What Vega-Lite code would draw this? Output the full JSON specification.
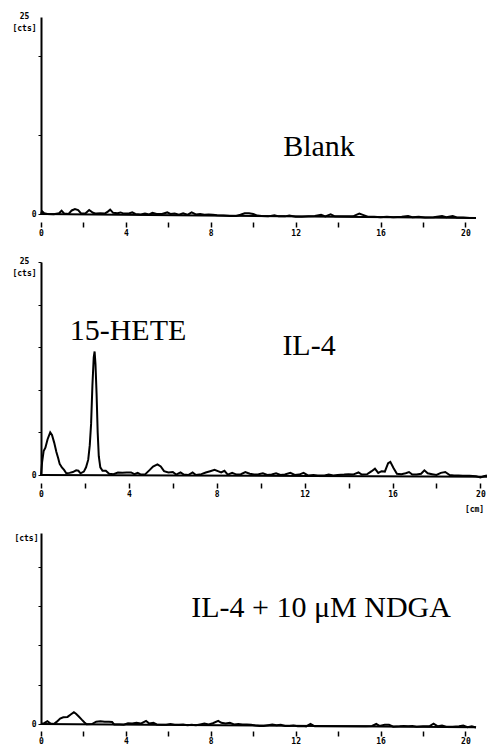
{
  "$schema": "https://vega.github.io/schema/vega-lite/v6.json",
  "padding": {"left": 11, "top": 12, "right": 0, "bottom": 0},
  "spacing": 20,
  "background": "white",
  "config": {
    "view": {"stroke": null},
    "axis": {
      "labelFont": "DejaVu Sans Mono", "labelFontWeight": "bold", "labelFontSize": 8, "labelColor": "black",
      "titleFont": "DejaVu Sans Mono", "titleFontWeight": "bold", "titleFontSize": 8, "titleColor": "black",
      "tickColor": "black", "domainColor": "black", "grid": false, "labelOverlap": false
    },
    "text": {"font": "Liberation Serif", "fontSize": 30, "color": "black"}
  },
  "datasets": {
    "blank": [
      {"s":"base","t":0,"c":0},{"s":"base","t":20.5,"c":-0.5},
      {"s":"tr","t":0,"c":0},{"s":"tr","t":0.05,"c":0.35},{"s":"tr","t":0.15,"c":0.1},{"s":"tr","t":0.3,"c":0},{"s":"tr","t":0.6,"c":-0.02},{"s":"tr","t":0.85,"c":0.1},{"s":"tr","t":0.97,"c":0.42},{"s":"tr","t":1.1,"c":0.05},{"s":"tr","t":1.3,"c":0},{"s":"tr","t":1.45,"c":0.45},{"s":"tr","t":1.6,"c":0.62},{"s":"tr","t":1.75,"c":0.5},{"s":"tr","t":1.9,"c":0.05},{"s":"tr","t":2.1,"c":0.1},{"s":"tr","t":2.27,"c":0.5},{"s":"tr","t":2.45,"c":0.15},{"s":"tr","t":2.6,"c":0.05},{"s":"tr","t":2.8,"c":0.1},{"s":"tr","t":3.0,"c":0.05},{"s":"tr","t":3.15,"c":0.3},{"s":"tr","t":3.26,"c":0.55},{"s":"tr","t":3.4,"c":0.15},{"s":"tr","t":3.6,"c":0.1},{"s":"tr","t":3.75,"c":0.2},{"s":"tr","t":3.9,"c":0.05},{"s":"tr","t":4.1,"c":0.05},{"s":"tr","t":4.3,"c":0.2},{"s":"tr","t":4.45,"c":0},{"s":"tr","t":4.7,"c":-0.05},{"s":"tr","t":4.9,"c":0.05},{"s":"tr","t":5.1,"c":-0.05},{"s":"tr","t":5.25,"c":0.15},{"s":"tr","t":5.45,"c":0},{"s":"tr","t":5.7,"c":0},{"s":"tr","t":5.95,"c":0.2},{"s":"tr","t":6.1,"c":0},{"s":"tr","t":6.3,"c":0.05},{"s":"tr","t":6.5,"c":-0.1},{"s":"tr","t":6.7,"c":0.1},{"s":"tr","t":6.9,"c":-0.1},{"s":"tr","t":7.1,"c":0.2},{"s":"tr","t":7.3,"c":-0.05},{"s":"tr","t":7.5,"c":0},{"s":"tr","t":7.7,"c":-0.1},{"s":"tr","t":7.9,"c":-0.05},{"s":"tr","t":8.1,"c":-0.1},{"s":"tr","t":8.3,"c":-0.15},{"s":"tr","t":8.6,"c":-0.2},{"s":"tr","t":8.9,"c":-0.25},{"s":"tr","t":9.2,"c":-0.25},{"s":"tr","t":9.4,"c":-0.1},{"s":"tr","t":9.6,"c":0.1},{"s":"tr","t":9.8,"c":0.1},{"s":"tr","t":10.0,"c":0},{"s":"tr","t":10.2,"c":-0.2},{"s":"tr","t":10.4,"c":-0.25},{"s":"tr","t":10.7,"c":-0.3},{"s":"tr","t":11.0,"c":-0.15},{"s":"tr","t":11.2,"c":-0.3},{"s":"tr","t":11.5,"c":-0.3},{"s":"tr","t":11.7,"c":-0.2},{"s":"tr","t":12.0,"c":-0.35},{"s":"tr","t":12.3,"c":-0.35},{"s":"tr","t":12.6,"c":-0.3},{"s":"tr","t":12.9,"c":-0.25},{"s":"tr","t":13.2,"c":-0.1},{"s":"tr","t":13.4,"c":-0.3},{"s":"tr","t":13.65,"c":-0.05},{"s":"tr","t":13.85,"c":-0.3},{"s":"tr","t":14.1,"c":-0.3},{"s":"tr","t":14.4,"c":-0.3},{"s":"tr","t":14.7,"c":-0.3},{"s":"tr","t":15.0,"c":0.05},{"s":"tr","t":15.2,"c":-0.15},{"s":"tr","t":15.4,"c":-0.35},{"s":"tr","t":15.7,"c":-0.35},{"s":"tr","t":16.0,"c":-0.4},{"s":"tr","t":16.3,"c":-0.35},{"s":"tr","t":16.6,"c":-0.4},{"s":"tr","t":17.0,"c":-0.35},{"s":"tr","t":17.3,"c":-0.25},{"s":"tr","t":17.5,"c":-0.4},{"s":"tr","t":17.8,"c":-0.35},{"s":"tr","t":18.1,"c":-0.45},{"s":"tr","t":18.5,"c":-0.4},{"s":"tr","t":18.9,"c":-0.25},{"s":"tr","t":19.1,"c":-0.4},{"s":"tr","t":19.4,"c":-0.25},{"s":"tr","t":19.6,"c":-0.45},{"s":"tr","t":19.9,"c":-0.45},{"s":"tr","t":20.2,"c":-0.5},{"s":"tr","t":20.5,"c":-0.5}
    ],
    "il4": [
      {"s":"base","t":0,"c":0},{"s":"base","t":20.3,"c":-0.2},
      {"s":"tr","t":0,"c":0},{"s":"tr","t":0.05,"c":1.5},{"s":"tr","t":0.12,"c":2.8},{"s":"tr","t":0.2,"c":3.2},{"s":"tr","t":0.3,"c":4.2},{"s":"tr","t":0.42,"c":5.0},{"s":"tr","t":0.5,"c":4.7},{"s":"tr","t":0.6,"c":3.8},{"s":"tr","t":0.7,"c":2.7},{"s":"tr","t":0.78,"c":2.0},{"s":"tr","t":0.85,"c":1.3},{"s":"tr","t":0.95,"c":0.9},{"s":"tr","t":1.05,"c":0.6},{"s":"tr","t":1.15,"c":0.2},{"s":"tr","t":1.3,"c":0.25},{"s":"tr","t":1.45,"c":0.35},{"s":"tr","t":1.6,"c":0.55},{"s":"tr","t":1.7,"c":0.5},{"s":"tr","t":1.8,"c":0.2},{"s":"tr","t":1.95,"c":0.4},{"s":"tr","t":2.05,"c":0.9},{"s":"tr","t":2.15,"c":1.8},{"s":"tr","t":2.22,"c":3.5},{"s":"tr","t":2.28,"c":6.0},{"s":"tr","t":2.34,"c":10.5},{"s":"tr","t":2.4,"c":13.8},{"s":"tr","t":2.44,"c":14.5},{"s":"tr","t":2.48,"c":13.0},{"s":"tr","t":2.53,"c":9.5},{"s":"tr","t":2.58,"c":5.0},{"s":"tr","t":2.63,"c":2.2},{"s":"tr","t":2.7,"c":0.9},{"s":"tr","t":2.8,"c":0.5},{"s":"tr","t":2.95,"c":0.5},{"s":"tr","t":3.1,"c":0.15},{"s":"tr","t":3.3,"c":0.1},{"s":"tr","t":3.5,"c":0.3},{"s":"tr","t":3.7,"c":0.25},{"s":"tr","t":3.9,"c":0.3},{"s":"tr","t":4.1,"c":0.3},{"s":"tr","t":4.25,"c":0.1},{"s":"tr","t":4.4,"c":0.25},{"s":"tr","t":4.55,"c":0.05},{"s":"tr","t":4.75,"c":0.1},{"s":"tr","t":4.95,"c":0.6},{"s":"tr","t":5.1,"c":1.0},{"s":"tr","t":5.3,"c":1.25},{"s":"tr","t":5.45,"c":1.0},{"s":"tr","t":5.6,"c":0.45},{"s":"tr","t":5.8,"c":0.3},{"s":"tr","t":6.0,"c":0.35},{"s":"tr","t":6.15,"c":0.05},{"s":"tr","t":6.35,"c":0.3},{"s":"tr","t":6.5,"c":0.05},{"s":"tr","t":6.7,"c":0},{"s":"tr","t":6.9,"c":0.3},{"s":"tr","t":7.05,"c":0},{"s":"tr","t":7.3,"c":0.1},{"s":"tr","t":7.5,"c":0.3},{"s":"tr","t":7.7,"c":0.45},{"s":"tr","t":7.9,"c":0.6},{"s":"tr","t":8.05,"c":0.45},{"s":"tr","t":8.2,"c":0.3},{"s":"tr","t":8.35,"c":0.5},{"s":"tr","t":8.5,"c":0.05},{"s":"tr","t":8.7,"c":0.25},{"s":"tr","t":8.9,"c":0.05},{"s":"tr","t":9.1,"c":0.1},{"s":"tr","t":9.3,"c":0.35},{"s":"tr","t":9.5,"c":0.15},{"s":"tr","t":9.7,"c":0.05},{"s":"tr","t":9.9,"c":0.1},{"s":"tr","t":10.1,"c":0.2},{"s":"tr","t":10.3,"c":0},{"s":"tr","t":10.5,"c":0.05},{"s":"tr","t":10.7,"c":0.2},{"s":"tr","t":10.9,"c":0},{"s":"tr","t":11.1,"c":0.05},{"s":"tr","t":11.35,"c":0.25},{"s":"tr","t":11.55,"c":0},{"s":"tr","t":11.75,"c":0.05},{"s":"tr","t":11.95,"c":0.25},{"s":"tr","t":12.15,"c":-0.05},{"s":"tr","t":12.4,"c":0},{"s":"tr","t":12.6,"c":-0.05},{"s":"tr","t":12.9,"c":-0.05},{"s":"tr","t":13.1,"c":0.05},{"s":"tr","t":13.3,"c":-0.05},{"s":"tr","t":13.5,"c":0},{"s":"tr","t":13.8,"c":0.05},{"s":"tr","t":14.0,"c":0.1},{"s":"tr","t":14.2,"c":0.05},{"s":"tr","t":14.45,"c":0.3},{"s":"tr","t":14.6,"c":0.05},{"s":"tr","t":14.85,"c":0.1},{"s":"tr","t":15.05,"c":0.45},{"s":"tr","t":15.2,"c":0.75},{"s":"tr","t":15.35,"c":0.25},{"s":"tr","t":15.5,"c":0.45},{"s":"tr","t":15.65,"c":0.4},{"s":"tr","t":15.8,"c":1.4},{"s":"tr","t":15.9,"c":1.55},{"s":"tr","t":16.05,"c":0.8},{"s":"tr","t":16.2,"c":0.15},{"s":"tr","t":16.4,"c":0.1},{"s":"tr","t":16.6,"c":0.2},{"s":"tr","t":16.75,"c":0.35},{"s":"tr","t":16.9,"c":0.05},{"s":"tr","t":17.1,"c":0.05},{"s":"tr","t":17.3,"c":0.15},{"s":"tr","t":17.45,"c":0.55},{"s":"tr","t":17.6,"c":0.2},{"s":"tr","t":17.8,"c":0.1},{"s":"tr","t":18.0,"c":0},{"s":"tr","t":18.2,"c":0.25},{"s":"tr","t":18.4,"c":0.35},{"s":"tr","t":18.6,"c":0},{"s":"tr","t":18.8,"c":-0.05},{"s":"tr","t":19.0,"c":-0.05},{"s":"tr","t":19.2,"c":-0.1},{"s":"tr","t":19.5,"c":-0.1},{"s":"tr","t":19.8,"c":-0.15},{"s":"tr","t":20.0,"c":-0.3},{"s":"tr","t":20.15,"c":-0.15},{"s":"tr","t":20.3,"c":-0.05}
    ],
    "ndga": [
      {"s":"base","t":0,"c":0},{"s":"base","t":20.5,"c":-0.4},
      {"s":"tr","t":0,"c":0},{"s":"tr","t":0.15,"c":0.1},{"s":"tr","t":0.3,"c":0.35},{"s":"tr","t":0.45,"c":0.05},{"s":"tr","t":0.6,"c":0},{"s":"tr","t":0.75,"c":0.3},{"s":"tr","t":0.9,"c":0.7},{"s":"tr","t":1.05,"c":0.85},{"s":"tr","t":1.25,"c":0.9},{"s":"tr","t":1.4,"c":1.2},{"s":"tr","t":1.55,"c":1.5},{"s":"tr","t":1.65,"c":1.3},{"s":"tr","t":1.78,"c":0.95},{"s":"tr","t":1.92,"c":0.55},{"s":"tr","t":2.05,"c":0.2},{"s":"tr","t":2.15,"c":-0.02},{"s":"tr","t":2.4,"c":0},{"s":"tr","t":2.6,"c":0.3},{"s":"tr","t":2.8,"c":0.35},{"s":"tr","t":3.0,"c":0.3},{"s":"tr","t":3.2,"c":0.3},{"s":"tr","t":3.35,"c":0.25},{"s":"tr","t":3.45,"c":-0.05},{"s":"tr","t":3.7,"c":-0.05},{"s":"tr","t":3.9,"c":-0.1},{"s":"tr","t":4.1,"c":0.1},{"s":"tr","t":4.3,"c":0.05},{"s":"tr","t":4.5,"c":0.15},{"s":"tr","t":4.7,"c":0.05},{"s":"tr","t":4.95,"c":0.4},{"s":"tr","t":5.1,"c":0.05},{"s":"tr","t":5.3,"c":0.15},{"s":"tr","t":5.45,"c":-0.05},{"s":"tr","t":5.7,"c":-0.1},{"s":"tr","t":5.9,"c":-0.1},{"s":"tr","t":6.1,"c":0},{"s":"tr","t":6.3,"c":-0.1},{"s":"tr","t":6.5,"c":-0.1},{"s":"tr","t":6.7,"c":-0.05},{"s":"tr","t":6.9,"c":-0.15},{"s":"tr","t":7.1,"c":-0.1},{"s":"tr","t":7.3,"c":-0.15},{"s":"tr","t":7.5,"c":-0.05},{"s":"tr","t":7.7,"c":0.05},{"s":"tr","t":7.9,"c":-0.05},{"s":"tr","t":8.1,"c":0.1},{"s":"tr","t":8.35,"c":0.4},{"s":"tr","t":8.5,"c":0.15},{"s":"tr","t":8.7,"c":0.05},{"s":"tr","t":8.9,"c":0.15},{"s":"tr","t":9.1,"c":-0.05},{"s":"tr","t":9.3,"c":0},{"s":"tr","t":9.5,"c":-0.05},{"s":"tr","t":9.7,"c":-0.05},{"s":"tr","t":9.9,"c":-0.1},{"s":"tr","t":10.1,"c":-0.2},{"s":"tr","t":10.3,"c":-0.25},{"s":"tr","t":10.5,"c":-0.25},{"s":"tr","t":10.7,"c":-0.15},{"s":"tr","t":10.9,"c":-0.05},{"s":"tr","t":11.1,"c":-0.15},{"s":"tr","t":11.3,"c":-0.1},{"s":"tr","t":11.5,"c":-0.25},{"s":"tr","t":11.7,"c":-0.25},{"s":"tr","t":11.9,"c":-0.2},{"s":"tr","t":12.1,"c":-0.3},{"s":"tr","t":12.3,"c":-0.25},{"s":"tr","t":12.5,"c":-0.3},{"s":"tr","t":12.7,"c":0},{"s":"tr","t":12.9,"c":-0.3},{"s":"tr","t":13.2,"c":-0.3},{"s":"tr","t":13.5,"c":-0.3},{"s":"tr","t":13.8,"c":-0.3},{"s":"tr","t":14.1,"c":-0.3},{"s":"tr","t":14.4,"c":-0.3},{"s":"tr","t":14.7,"c":-0.3},{"s":"tr","t":15.0,"c":-0.3},{"s":"tr","t":15.3,"c":-0.3},{"s":"tr","t":15.6,"c":-0.25},{"s":"tr","t":15.8,"c":0},{"s":"tr","t":15.95,"c":-0.25},{"s":"tr","t":16.2,"c":-0.1},{"s":"tr","t":16.4,"c":-0.1},{"s":"tr","t":16.6,"c":-0.35},{"s":"tr","t":16.9,"c":-0.3},{"s":"tr","t":17.1,"c":-0.25},{"s":"tr","t":17.3,"c":-0.3},{"s":"tr","t":17.5,"c":-0.25},{"s":"tr","t":17.7,"c":-0.35},{"s":"tr","t":18.0,"c":-0.3},{"s":"tr","t":18.3,"c":-0.3},{"s":"tr","t":18.5,"c":0.05},{"s":"tr","t":18.7,"c":-0.3},{"s":"tr","t":18.9,"c":-0.2},{"s":"tr","t":19.1,"c":-0.35},{"s":"tr","t":19.4,"c":-0.35},{"s":"tr","t":19.7,"c":-0.3},{"s":"tr","t":19.9,"c":-0.2},{"s":"tr","t":20.1,"c":-0.4},{"s":"tr","t":20.3,"c":-0.3},{"s":"tr","t":20.5,"c":-0.45}
    ]
  },
  "vconcat": [
    {
      "width": 435, "height": 197,
      "layer": [
        {
          "data": {"name": "blank"},
          "mark": {"type": "line", "color": "black", "strokeWidth": 2, "clip": false},
          "encoding": {
            "x": {"field": "t", "type": "quantitative", "scale": {"domain": [0, 20.5], "nice": false},
              "axis": {"values": [0,1,2,3,4,5,6,7,8,9,10,11,12,13,14,15,16,17,18,19,20], "labelExpr": "datum.value % 4 == 0 ? datum.label : ''", "domain": false, "offset": 8, "tickSize": 5, "tickWidth": 1.5, "labelPadding": 2, "title": null, "labelFlush": false}},
            "y": {"field": "c", "type": "quantitative", "scale": {"domain": [0, 25], "nice": false},
              "axis": {"values": [0,2.5,5,7.5,10,12.5,15,17.5,20,22.5,25], "labelExpr": "datum.value == 0 ? datum.label : ''", "tickSize": 3, "domainWidth": 2, "labelPadding": 2, "labelFlush": false, "title": ["25", "[cts]"], "titleAngle": 0, "titleAlign": "center", "titleBaseline": "top", "titleLineHeight": 12, "titleX": -17, "titleY": -5}},
            "detail": {"field": "s"}
          }
        },
        {
          "data": {"values": [{"t": 13.1, "c": 8.5, "label": "Blank"}]},
          "mark": {"type": "text", "align": "center", "baseline": "middle"},
          "encoding": {
            "x": {"field": "t", "type": "quantitative"},
            "y": {"field": "c", "type": "quantitative"},
            "text": {"field": "label"}
          }
        }
      ]
    },
    {
      "width": 446, "height": 213,
      "layer": [
        {
          "data": {"name": "il4"},
          "mark": {"type": "line", "color": "black", "strokeWidth": 2, "clip": false},
          "encoding": {
            "x": {"field": "t", "type": "quantitative", "scale": {"domain": [0, 20.3], "nice": false},
              "axis": {"values": [0,1,2,3,4,5,6,7,8,9,10,11,12,13,14,15,16,17,18,19,20], "labelExpr": "datum.value % 4 == 0 ? datum.label : ''", "domain": false, "offset": 8, "tickSize": 5, "tickWidth": 1.5, "labelPadding": 2, "labelFlush": false, "title": "[cm]", "titleX": 433, "titleY": 26, "titleAlign": "center", "titleBaseline": "middle"}},
            "y": {"field": "c", "type": "quantitative", "scale": {"domain": [0, 25], "nice": false},
              "axis": {"values": [0,2.5,5,7.5,10,12.5,15,17.5,20,22.5,25], "labelExpr": "datum.value == 0 ? datum.label : ''", "tickSize": 3, "domainWidth": 2, "labelPadding": 2, "labelFlush": false, "title": ["25", "[cts]"], "titleAngle": 0, "titleAlign": "center", "titleBaseline": "top", "titleLineHeight": 12, "titleX": -17, "titleY": -5}},
            "detail": {"field": "s"}
          }
        },
        {
          "data": {"values": [{"t": 3.96, "c": 16.9, "label": "15-HETE"}, {"t": 12.2, "c": 15.1, "label": "IL-4"}]},
          "mark": {"type": "text", "align": "center", "baseline": "middle"},
          "encoding": {
            "x": {"field": "t", "type": "quantitative"},
            "y": {"field": "c", "type": "quantitative"},
            "text": {"field": "label"}
          }
        }
      ]
    },
    {
      "width": 435, "height": 191,
      "layer": [
        {
          "data": {"name": "ndga"},
          "mark": {"type": "line", "color": "black", "strokeWidth": 2, "clip": false},
          "encoding": {
            "x": {"field": "t", "type": "quantitative", "scale": {"domain": [0, 20.5], "nice": false},
              "axis": {"values": [0,1,2,3,4,5,6,7,8,9,10,11,12,13,14,15,16,17,18,19,20], "labelExpr": "datum.value % 4 == 0 ? datum.label : ''", "domain": false, "offset": 7, "tickSize": 5, "tickWidth": 1.5, "labelPadding": 1, "labelFlush": false, "title": null}},
            "y": {"field": "c", "type": "quantitative", "scale": {"domain": [0, 24.3], "nice": false},
              "axis": {"values": [0,2.5,5,7.5,10,12.5,15,17.5,20,22.5], "labelExpr": "datum.value == 0 ? datum.label : ''", "tickSize": 3, "domainWidth": 2, "labelPadding": 2, "labelFlush": false, "title": "[cts]", "titleAngle": 0, "titleAlign": "right", "titleBaseline": "middle", "titleX": -3, "titleY": 5}},
            "detail": {"field": "s"}
          }
        },
        {
          "data": {"values": [{"t": 13.2, "c": 14.8, "label": "IL-4 + 10 μM NDGA"}]},
          "mark": {"type": "text", "align": "center", "baseline": "middle"},
          "encoding": {
            "x": {"field": "t", "type": "quantitative"},
            "y": {"field": "c", "type": "quantitative"},
            "text": {"field": "label"}
          }
        }
      ]
    }
  ]
}
